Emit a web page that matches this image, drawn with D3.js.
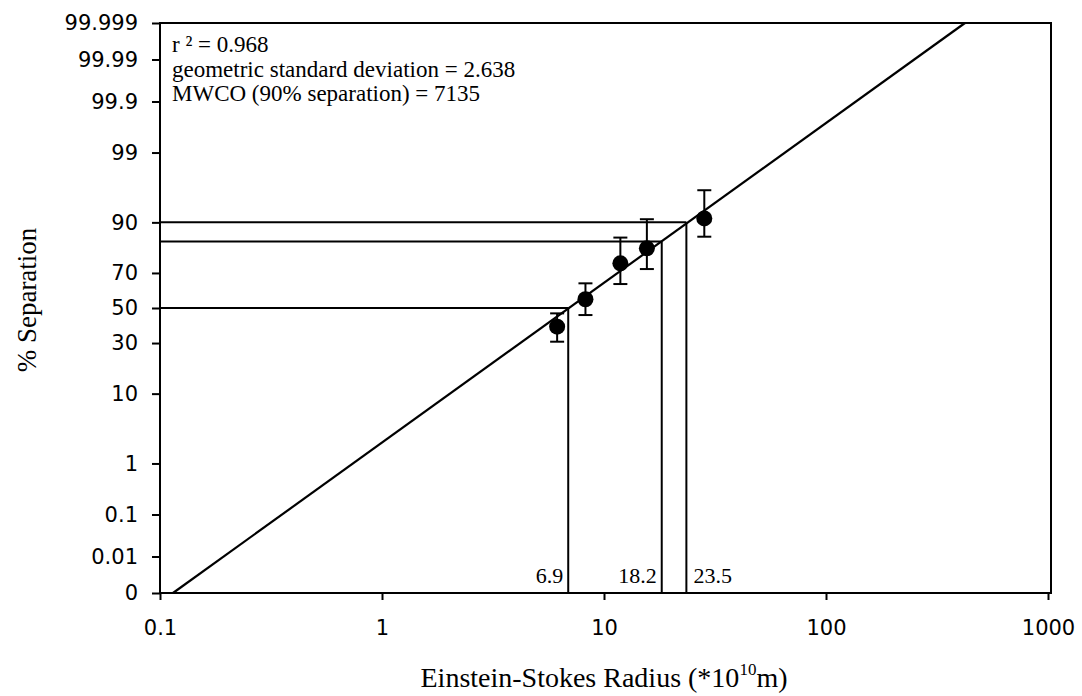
<!DOCTYPE html>
<html>
<head>
<meta charset="utf-8">
<script src="https://cdn.jsdelivr.net/npm/d3@7"></script>
<style>
  body { margin: 0; background: #fff; }
  .tick text { font-family: "DejaVu Sans", sans-serif; font-size: 21px; fill: #000; }
  .serif { font-family: "Liberation Serif", "Times New Roman", serif; fill: #000; }
</style>
</head>
<body>
<div id="chart"></div>
<script>
// measured points (radius *10^10 m, % separation)
var radius = [6.15, 8.25, 11.85, 15.6, 28.3];
var separation = [39.0, 55.2, 74.8, 81.4, 91.0];
var errHigh = [46.8, 64.4, 85.4, 90.8, 96.1];
var errLow = [30.7, 45.8, 64.0, 72.0, 85.7];

// fitted log-normal line, drawn end to end
var fitRadius = [0.1144, 422.6];
var fitSeparation = [0.001, 99.999];

// read-off guides
var cutRadius = [6.9, 18.2, 23.5];
var cutSeparation = [50, 84, 90];
var cutLabels = ['6.9', '18.2', '23.5'];

var xTicks = [0.1, 1, 10, 100, 1000];
var yTicks = [0.001, 0.01, 0.1, 1, 10, 30, 50, 70, 90, 99, 99.9, 99.99, 99.999];
var yTickLabels = ['0', '0.01', '0.1', '1', '10', '30', '50', '70', '90', '99', '99.9', '99.99', '99.999'];

var statLines = ['r \u00b2 = 0.968', 'geometric standard deviation = 2.638', 'MWCO (90% separation) = 7135'];

var chart = (function() {

  var config = {
    width: 1082,
    height: 696,
    left: 160,
    right: 1048,
    top: 23,
    bottom: 593,
    radius: 8,
    cap: 7
  };
  var svg, x, z;

  // inverse normal cdf (Acklam)
  function probit(p) {
    var a = [-3.969683028665376e+01, 2.209460984245205e+02, -2.759285104469687e+02, 1.383577518672690e+02, -3.066479806614716e+01, 2.506628277459239e+00];
    var b = [-5.447609879822406e+01, 1.615858368580409e+02, -1.556989798598866e+02, 6.680131188771972e+01, -1.328068155288572e+01];
    var c = [-7.784894002430293e-03, -3.223964580411365e-01, -2.400758277161838e+00, -2.549732539343734e+00, 4.374664141464968e+00, 2.938163982698783e+00];
    var d = [7.784695709041462e-03, 3.224671290700398e-01, 2.445134137142996e+00, 3.754408661907416e+00];
    var q, r;
    if (p < 0.02425) {
      q = Math.sqrt(-2 * Math.log(p));
      return (((((c[0]*q+c[1])*q+c[2])*q+c[3])*q+c[4])*q+c[5]) / ((((d[0]*q+d[1])*q+d[2])*q+d[3])*q+1);
    }
    if (p > 1 - 0.02425) {
      q = Math.sqrt(-2 * Math.log(1 - p));
      return -(((((c[0]*q+c[1])*q+c[2])*q+c[3])*q+c[4])*q+c[5]) / ((((d[0]*q+d[1])*q+d[2])*q+d[3])*q+1);
    }
    q = p - 0.5;
    r = q * q;
    return (((((a[0]*r+a[1])*r+a[2])*r+a[3])*r+a[4])*r+a[5])*q / (((((b[0]*r+b[1])*r+b[2])*r+b[3])*r+b[4])*r+1);
  }

  function y(pct) {
    return z(probit(pct / 100));
  }

  function init() {
    svg = d3.select('#chart').append('svg')
      .attr('width', config.width)
      .attr('height', config.height);

    x = d3.scaleLog().domain([0.1, 1000]).range([config.left, config.right]);
    z = d3.scaleLinear().domain([probit(0.00001), probit(0.99999)]).range([config.bottom, config.top]);

    drawAxes();
    drawGuides();
    drawFit();
    drawPoints();
    drawText();
  }

  function drawAxes() {
    var yAxis = d3.axisLeft(z)
      .tickValues(yTicks.map(function(p) { return probit(p / 100); }))
      .tickFormat(function(d, i) { return yTickLabels[i]; })
      .tickSize(8).tickSizeOuter(0).tickPadding(14);

    var xAxis = d3.axisBottom(x)
      .tickValues(xTicks)
      .tickFormat(function(d) { return d; })
      .tickSize(7).tickSizeOuter(0).tickPadding(20);

    var gy = svg.append('g').attr('transform', 'translate(' + config.left + ',0)').call(yAxis);
    var gx = svg.append('g').attr('transform', 'translate(0,' + config.bottom + ')').call(xAxis);
    gy.select('.domain').remove();
    gx.select('.domain').remove();
    svg.selectAll('.tick line').attr('stroke', '#000').attr('stroke-width', 2);

    // plot frame
    svg.append('rect')
      .attr('x', config.left)
      .attr('y', config.top)
      .attr('width', config.right + 3 - config.left)
      .attr('height', config.bottom - config.top)
      .attr('fill', 'none')
      .attr('stroke', '#000')
      .attr('stroke-width', 2);
  }

  function drawGuides() {
    var g = svg.append('g').attr('stroke', '#000').attr('stroke-width', 2);
    cutRadius.forEach(function(r, i) {
      g.append('line')
        .attr('x1', config.left).attr('x2', x(r))
        .attr('y1', y(cutSeparation[i])).attr('y2', y(cutSeparation[i]));
      g.append('line')
        .attr('x1', x(r)).attr('x2', x(r))
        .attr('y1', y(cutSeparation[i])).attr('y2', config.bottom);

      var last = i === cutRadius.length - 1;
      svg.append('text')
        .attr('class', 'serif')
        .attr('x', last ? x(r) + 7 : x(r) - 5)
        .attr('y', config.bottom - 10)
        .attr('text-anchor', last ? 'start' : 'end')
        .style('font-size', '22px')
        .text(cutLabels[i]);
    });
  }

  function drawFit() {
    var line = d3.line()
      .x(function(d) { return x(d[0]); })
      .y(function(d) { return y(d[1]); });
    svg.append('path')
      .datum(d3.zip(fitRadius, fitSeparation))
      .attr('d', line)
      .attr('fill', 'none')
      .attr('stroke', '#000')
      .attr('stroke-width', 2.2);
  }

  function drawPoints() {
    var g = svg.append('g');
    radius.forEach(function(r, i) {
      var cx = x(r);
      g.append('line')
        .attr('x1', cx).attr('x2', cx)
        .attr('y1', y(errLow[i])).attr('y2', y(errHigh[i]))
        .attr('stroke', '#000').attr('stroke-width', 2);
      [errLow[i], errHigh[i]].forEach(function(v) {
        g.append('line')
          .attr('x1', cx - config.cap).attr('x2', cx + config.cap)
          .attr('y1', y(v)).attr('y2', y(v))
          .attr('stroke', '#000').attr('stroke-width', 2);
      });
      g.append('circle')
        .attr('cx', cx)
        .attr('cy', y(separation[i]))
        .attr('r', config.radius)
        .attr('fill', '#000');
    });
  }

  function drawText() {
    statLines.forEach(function(s, i) {
      svg.append('text')
        .attr('class', 'serif')
        .attr('x', config.left + 12)
        .attr('y', 52 + i * 24.5)
        .style('font-size', '23px')
        .text(s);
    });

    var title = svg.append('text')
      .attr('class', 'serif')
      .attr('x', (config.left + config.right) / 2)
      .attr('y', 687)
      .attr('text-anchor', 'middle')
      .style('font-size', '28px');
    title.append('tspan').text('Einstein-Stokes Radius (*10');
    title.append('tspan').attr('dy', -12).style('font-size', '17px').text('10');
    title.append('tspan').attr('dy', 12).text('m)');

    svg.append('text')
      .attr('class', 'serif')
      .attr('transform', 'translate(36,300) rotate(-90)')
      .attr('text-anchor', 'middle')
      .style('font-size', '27px')
      .text('% Separation');
  }

  return {
    init: init
  };

})();

chart.init();
</script>
</body>
</html>
